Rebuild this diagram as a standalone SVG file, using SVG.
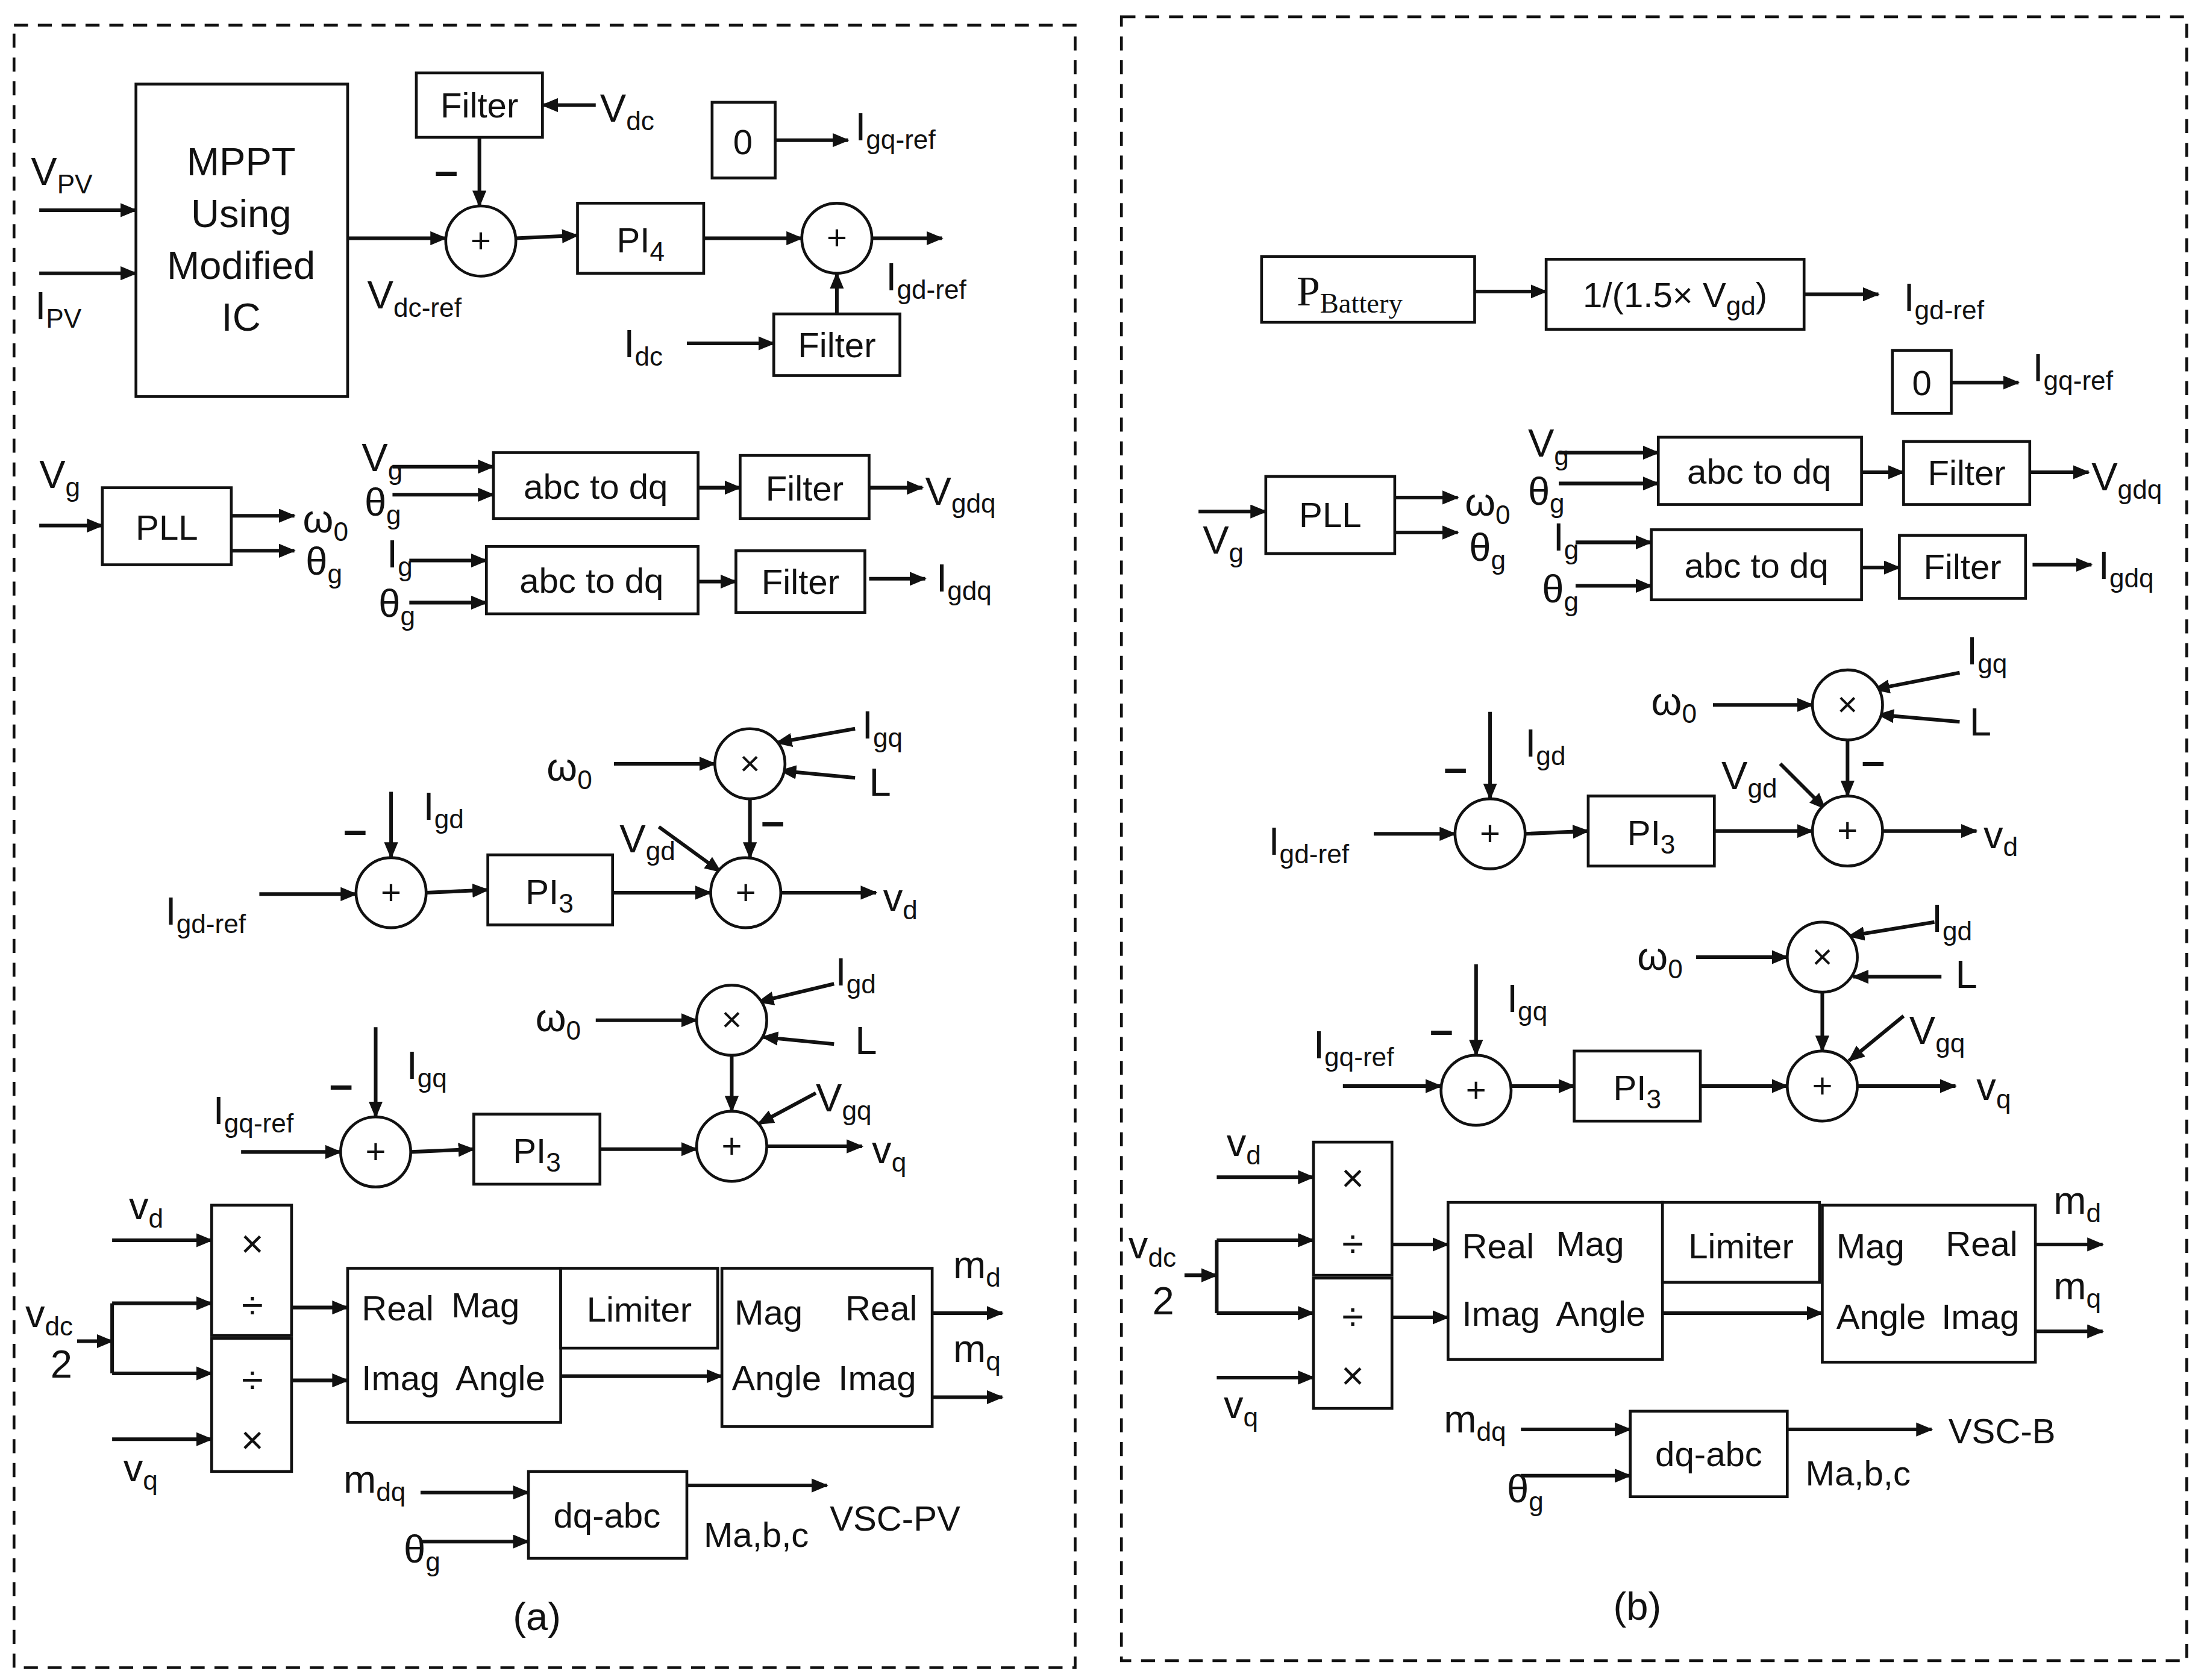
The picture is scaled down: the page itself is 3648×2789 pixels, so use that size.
<svg xmlns="http://www.w3.org/2000/svg" width="3648" height="2789" viewBox="0 0 3648 2789">
<style>
text{font-family:"Liberation Sans",Arial,sans-serif;font-size:25px;fill:#111}
.t{text-anchor:middle}
.l{font-size:28px}
.s{font-size:19px}
.bx{fill:#fff;stroke:#111;stroke-width:2}
.c{fill:#fff;stroke:#111;stroke-width:2}
.a{stroke:#111;stroke-width:2.6;fill:none;marker-end:url(#ah)}
.ln{stroke:#111;stroke-width:2.6;fill:none}
.d{fill:none;stroke:#111;stroke-width:2;stroke-dasharray:10 7}
.m{font-size:30px;font-weight:bold}
</style>
<defs>
<marker id="ah" viewBox="0 0 12 10" refX="11" refY="5" markerWidth="12" markerHeight="10" markerUnits="userSpaceOnUse" orient="auto"><path d="M0,0L12,5L0,10z" fill="#111"/></marker>
</defs>
<rect width="3648" height="2789" fill="#fff"/>
<g transform="scale(2.3265)">
<rect class="d" x="10" y="18" width="757" height="1172"/>
<rect class="d" x="800" y="12" width="760" height="1173"/>

<g id="connectors">
<path class="a" d="M28,150H97"/><path class="a" d="M28,195H97"/>
<path class="a" d="M248,170H318"/>
<path class="a" d="M425,75H387"/>
<path class="a" d="M342,98V147"/>
<path class="a" d="M368,170L412,168"/>
<path class="a" d="M502,170H572"/>
<path class="a" d="M622,170H672"/>
<path class="a" d="M597,224V195"/>
<path class="a" d="M490,245H552"/>
<path class="a" d="M553,100H605"/>
<path class="a" d="M28,375H73"/>
<path class="a" d="M165,368H210"/><path class="a" d="M165,393H210"/>
<path class="a" d="M280,333H352"/><path class="a" d="M280,353H352"/>
<path class="a" d="M498,348H528"/><path class="a" d="M620,348H658"/>
<path class="a" d="M292,400H347"/><path class="a" d="M292,430H347"/>
<path class="a" d="M498,415H525"/><path class="a" d="M620,413H660"/>
<path class="a" d="M185,638H254"/>
<path class="a" d="M279,565V612"/>
<path class="a" d="M304,637L348,635"/>
<path class="a" d="M437,637H507"/>
<path class="a" d="M557,637H625"/>
<path class="a" d="M438,545H510"/>
<path class="a" d="M610,520L554,530"/>
<path class="a" d="M610,555L557,550"/>
<path class="a" d="M535,570V612"/>
<path class="a" d="M470,590L514,622"/>
<path class="a" d="M425,728H497"/>
<path class="a" d="M595,702L541,715"/>
<path class="a" d="M595,745L544,740"/>
<path class="a" d="M522,753V793"/>
<path class="a" d="M582,780L541,802"/>
<path class="a" d="M547,818H615"/>
<path class="a" d="M268,733V797"/>
<path class="a" d="M172,822H243"/>
<path class="a" d="M293,822L338,820"/>
<path class="a" d="M428,820H497"/>
<path class="a" d="M80,885H151"/>
<path class="a" d="M55,957H80"/>
<path class="ln" d="M80,930V980"/>
<path class="a" d="M80,930H151"/><path class="a" d="M80,980H151"/>
<path class="a" d="M80,1027H151"/>
<path class="a" d="M208,933H248"/><path class="a" d="M208,985H248"/>
<path class="a" d="M400,982H515"/>
<path class="a" d="M665,937H715"/><path class="a" d="M665,997H715"/>
<path class="a" d="M300,1065H377"/><path class="a" d="M300,1100H377"/>
<path class="a" d="M490,1060H590"/>
<path class="a" d="M1052,208H1103"/>
<path class="a" d="M1287,210H1340"/>
<path class="a" d="M1392,273H1440"/>
<path class="a" d="M855,365H903"/>
<path class="a" d="M995,355H1040"/><path class="a" d="M995,380H1040"/>
<path class="a" d="M1112,323H1183"/><path class="a" d="M1112,345H1183"/>
<path class="a" d="M1328,337H1358"/><path class="a" d="M1448,337H1490"/>
<path class="a" d="M1124,387H1178"/><path class="a" d="M1124,418H1178"/>
<path class="a" d="M1328,405H1355"/><path class="a" d="M1450,403H1492"/>
<path class="a" d="M1222,503H1293"/>
<path class="a" d="M1398,480L1337,492"/>
<path class="a" d="M1398,515L1340,510"/>
<path class="a" d="M1318,528V568"/>
<path class="a" d="M1270,545L1302,577"/>
<path class="a" d="M1343,593H1410"/>
<path class="a" d="M1063,508V570"/>
<path class="a" d="M980,595H1038"/>
<path class="a" d="M1088,595L1133,593"/>
<path class="a" d="M1223,593H1293"/>
<path class="a" d="M1210,683H1275"/>
<path class="a" d="M1380,658L1319,668"/>
<path class="a" d="M1385,697H1322"/>
<path class="a" d="M1300,708V750"/>
<path class="a" d="M1358,725L1319,757"/>
<path class="a" d="M1325,775H1395"/>
<path class="a" d="M1053,688V753"/>
<path class="a" d="M958,775H1028"/>
<path class="a" d="M1078,775H1123"/>
<path class="a" d="M1213,775H1275"/>
<path class="a" d="M868,840H937"/>
<path class="a" d="M845,910H868"/>
<path class="ln" d="M868,885V937"/>
<path class="a" d="M868,885H937"/><path class="a" d="M868,937H937"/>
<path class="a" d="M868,983H937"/>
<path class="a" d="M993,888H1033"/><path class="a" d="M993,940H1033"/>
<path class="a" d="M1186,937H1300"/>
<path class="a" d="M1452,888H1500"/><path class="a" d="M1452,950H1500"/>
<path class="a" d="M1085,1020H1163"/><path class="a" d="M1085,1053H1163"/>
<path class="a" d="M1275,1020H1378"/>
</g>

<g id="mppt"><rect class="bx" x="97" y="60" width="151" height="223"/>
<text class="t l" x="172" y="125">MPPT</text><text class="t l" x="172" y="162">Using</text><text class="t l" x="172" y="199">Modified</text><text class="t l" x="172" y="236">IC</text></g>
<g id="filterA1"><rect class="bx" x="297" y="52" width="90" height="46"/><text class="t" x="342" y="84">Filter</text></g>
<g id="sumA1"><circle class="c" cx="343" cy="172" r="25"/><text class="t" x="343" y="180">+</text></g>
<g id="pi4"><rect class="bx" x="412" y="145" width="90" height="50"/><text class="t" x="457" y="180">PI<tspan class="s" dy="6">4</tspan></text></g>
<g id="sumA2"><circle class="c" cx="597" cy="170" r="25"/><text class="t" x="597" y="178">+</text></g>
<g id="filterA2"><rect class="bx" x="552" y="224" width="90" height="44"/><text class="t" x="597" y="255">Filter</text></g>
<g id="zeroA"><rect class="bx" x="508" y="73" width="45" height="54"/><text class="t" x="530" y="110">0</text></g>
<g id="pllA"><rect class="bx" x="73" y="348" width="92" height="55"/><text class="t" x="119" y="385">PLL</text></g>
<g id="abcA1"><rect class="bx" x="352" y="323" width="146" height="47"/><text class="t" x="425" y="356">abc to dq</text></g>
<g id="filterA3"><rect class="bx" x="528" y="325" width="92" height="45"/><text class="t" x="574" y="357">Filter</text></g>
<g id="abcA2"><rect class="bx" x="347" y="390" width="151" height="48"/><text class="t" x="422" y="423">abc to dq</text></g>
<g id="filterA4"><rect class="bx" x="525" y="393" width="92" height="44"/><text class="t" x="571" y="424">Filter</text></g>
<g id="sumA3"><circle class="c" cx="279" cy="637" r="25"/><text class="t" x="279" y="645">+</text></g>
<g id="pi3A1"><rect class="bx" x="348" y="610" width="89" height="50"/><text class="t" x="392" y="645">PI<tspan class="s" dy="6">3</tspan></text></g>
<g id="sumA4"><circle class="c" cx="532" cy="637" r="25"/><text class="t" x="532" y="645">+</text></g>
<g id="mulA1"><circle class="c" cx="535" cy="545" r="25"/><text class="t" x="535" y="553">×</text></g>
<g id="mulA2"><circle class="c" cx="522" cy="728" r="25"/><text class="t" x="522" y="736">×</text></g>
<g id="sumA5"><circle class="c" cx="522" cy="818" r="25"/><text class="t" x="522" y="826">+</text></g>
<g id="sumA6"><circle class="c" cx="268" cy="822" r="25"/><text class="t" x="268" y="830">+</text></g>
<g id="pi3A2"><rect class="bx" x="338" y="795" width="90" height="50"/><text class="t" x="383" y="830">PI<tspan class="s" dy="6">3</tspan></text></g>
<g id="divA1"><rect class="bx" x="151" y="860" width="57" height="93"/><text class="t l" x="180" y="897">×</text><text class="t l" x="180" y="941">÷</text></g>
<g id="divA2"><rect class="bx" x="151" y="955" width="57" height="95"/><text class="t l" x="180" y="994">÷</text><text class="t l" x="180" y="1037">×</text></g>
<g id="r2pA"><rect class="bx" x="248" y="905" width="152" height="110"/><text x="258" y="942">Real</text><text x="322" y="940">Mag</text><text x="258" y="992">Imag</text><text x="325" y="992">Angle</text></g>
<g id="limA"><rect class="bx" x="400" y="905" width="112" height="57"/><text class="t" x="456" y="943">Limiter</text></g>
<g id="p2rA"><rect class="bx" x="515" y="905" width="150" height="113"/><text x="524" y="945">Mag</text><text x="603" y="942">Real</text><text x="522" y="992">Angle</text><text x="598" y="992">Imag</text></g>
<g id="dqabcA"><rect class="bx" x="377" y="1050" width="113" height="62"/><text class="t" x="433" y="1090">dq-abc</text></g>

<g id="labelsA">
<text class="l" x="22" y="132">V<tspan class="s" dy="6">PV</tspan></text>
<text class="l" x="25" y="228">I<tspan class="s" dy="6">PV</tspan></text>
<text class="l" x="428" y="87">V<tspan class="s" dy="6">dc</tspan></text>
<text class="m" x="310" y="132">–</text>
<text class="l" x="262" y="220">V<tspan class="s" dy="6">dc-ref</tspan></text>
<text class="l" x="610" y="100">I<tspan class="s" dy="6">gq-ref</tspan></text>
<text class="l" x="632" y="207">I<tspan class="s" dy="6">gd-ref</tspan></text>
<text class="l" x="445" y="255">I<tspan class="s" dy="6">dc</tspan></text>
<text class="l" x="28" y="348">V<tspan class="s" dy="6">g</tspan></text>
<text class="l" x="216" y="380">ω<tspan class="s" dy="6">0</tspan></text>
<text class="l" x="218" y="410">θ<tspan class="s" dy="6">g</tspan></text>
<text class="l" x="258" y="336">V<tspan class="s" dy="6">g</tspan></text>
<text class="l" x="260" y="368">θ<tspan class="s" dy="6">g</tspan></text>
<text class="l" x="660" y="360">V<tspan class="s" dy="6">gdq</tspan></text>
<text class="l" x="276" y="405">I<tspan class="s" dy="6">g</tspan></text>
<text class="l" x="270" y="440">θ<tspan class="s" dy="6">g</tspan></text>
<text class="l" x="668" y="422">I<tspan class="s" dy="6">gdq</tspan></text>
<text class="l" x="118" y="660">I<tspan class="s" dy="6">gd-ref</tspan></text>
<text class="m" x="245" y="602">–</text>
<text class="l" x="302" y="585">I<tspan class="s" dy="6">gd</tspan></text>
<text class="l" x="390" y="557">ω<tspan class="s" dy="6">0</tspan></text>
<text class="l" x="615" y="527">I<tspan class="s" dy="6">gq</tspan></text>
<text class="l" x="620" y="568">L</text>
<text class="m" x="543" y="596">–</text>
<text class="l" x="442" y="608">V<tspan class="s" dy="6">gd</tspan></text>
<text class="l" x="630" y="650">v<tspan class="s" dy="6">d</tspan></text>
<text class="l" x="382" y="736">ω<tspan class="s" dy="6">0</tspan></text>
<text class="l" x="596" y="703">I<tspan class="s" dy="6">gd</tspan></text>
<text class="l" x="610" y="752">L</text>
<text class="l" x="582" y="793">V<tspan class="s" dy="6">gq</tspan></text>
<text class="l" x="622" y="830">v<tspan class="s" dy="6">q</tspan></text>
<text class="m" x="235" y="784">–</text>
<text class="l" x="290" y="770">I<tspan class="s" dy="6">gq</tspan></text>
<text class="l" x="152" y="802">I<tspan class="s" dy="6">gq-ref</tspan></text>
<text class="l" x="92" y="870">v<tspan class="s" dy="6">d</tspan></text>
<text class="l" x="18" y="947">v<tspan class="s" dy="6">dc</tspan></text>
<text class="l" x="36" y="983">2</text>
<text class="l" x="88" y="1057">v<tspan class="s" dy="6">q</tspan></text>
<text class="l" x="680" y="912">m<tspan class="s" dy="6">d</tspan></text>
<text class="l" x="680" y="972">m<tspan class="s" dy="6">q</tspan></text>
<text class="l" x="245" y="1065">m<tspan class="s" dy="6">dq</tspan></text>
<text class="l" x="288" y="1115">θ<tspan class="s" dy="6">g</tspan></text>
<text x="502" y="1104">Ma,b,c</text>
<text x="592" y="1092">VSC-PV</text>
<text class="t l" x="383" y="1163">(a)</text>
</g>

<g id="pbat"><rect class="bx" x="900" y="183" width="152" height="47"/><text x="925" y="218" style="font-family:'Liberation Serif',serif;font-size:30px">P<tspan style="font-size:20px" dy="5">Battery</tspan></text></g>
<g id="gain"><rect class="bx" x="1103" y="185" width="184" height="50"/><text class="t" x="1195" y="219">1/(1.5× V<tspan class="s" dy="6">gd</tspan><tspan dy="-6">)</tspan></text></g>
<g id="zeroB"><rect class="bx" x="1350" y="250" width="42" height="45"/><text class="t" x="1371" y="282">0</text></g>
<g id="pllB"><rect class="bx" x="903" y="340" width="92" height="55"/><text class="t" x="949" y="376">PLL</text></g>
<g id="abcB1"><rect class="bx" x="1183" y="312" width="145" height="48"/><text class="t" x="1255" y="345">abc to dq</text></g>
<g id="filterB1"><rect class="bx" x="1358" y="315" width="90" height="45"/><text class="t" x="1403" y="346">Filter</text></g>
<g id="abcB2"><rect class="bx" x="1178" y="378" width="150" height="50"/><text class="t" x="1253" y="412">abc to dq</text></g>
<g id="filterB2"><rect class="bx" x="1355" y="382" width="90" height="45"/><text class="t" x="1400" y="413">Filter</text></g>
<g id="mulB1"><circle class="c" cx="1318" cy="503" r="25"/><text class="t" x="1318" y="511">×</text></g>
<g id="sumB1"><circle class="c" cx="1318" cy="593" r="25"/><text class="t" x="1318" y="601">+</text></g>
<g id="sumB2"><circle class="c" cx="1063" cy="595" r="25"/><text class="t" x="1063" y="603">+</text></g>
<g id="pi3B1"><rect class="bx" x="1133" y="568" width="90" height="50"/><text class="t" x="1178" y="603">PI<tspan class="s" dy="6">3</tspan></text></g>
<g id="mulB2"><circle class="c" cx="1300" cy="683" r="25"/><text class="t" x="1300" y="691">×</text></g>
<g id="sumB3"><circle class="c" cx="1300" cy="775" r="25"/><text class="t" x="1300" y="783">+</text></g>
<g id="sumB4"><circle class="c" cx="1053" cy="778" r="25"/><text class="t" x="1053" y="786">+</text></g>
<g id="pi3B2"><rect class="bx" x="1123" y="750" width="90" height="50"/><text class="t" x="1168" y="785">PI<tspan class="s" dy="6">3</tspan></text></g>
<g id="divB1"><rect class="bx" x="937" y="815" width="56" height="95"/><text class="t l" x="965" y="850">×</text><text class="t l" x="965" y="897">÷</text></g>
<g id="divB2"><rect class="bx" x="937" y="912" width="56" height="93"/><text class="t l" x="965" y="949">÷</text><text class="t l" x="965" y="991">×</text></g>
<g id="r2pB"><rect class="bx" x="1033" y="858" width="153" height="112"/><text x="1043" y="898">Real</text><text x="1110" y="896">Mag</text><text x="1043" y="946">Imag</text><text x="1110" y="946">Angle</text></g>
<g id="limB"><rect class="bx" x="1186" y="858" width="112" height="57"/><text class="t" x="1242" y="898">Limiter</text></g>
<g id="p2rB"><rect class="bx" x="1300" y="860" width="152" height="112"/><text x="1310" y="898">Mag</text><text x="1388" y="896">Real</text><text x="1310" y="948">Angle</text><text x="1385" y="948">Imag</text></g>
<g id="dqabcB"><rect class="bx" x="1163" y="1007" width="112" height="61"/><text class="t" x="1219" y="1046">dq-abc</text></g>

<g id="labelsB">
<text class="l" x="1358" y="222">I<tspan class="s" dy="6">gd-ref</tspan></text>
<text class="l" x="1450" y="272">I<tspan class="s" dy="6">gq-ref</tspan></text>
<text class="l" x="858" y="395">V<tspan class="s" dy="6">g</tspan></text>
<text class="l" x="1045" y="368">ω<tspan class="s" dy="6">0</tspan></text>
<text class="l" x="1048" y="400">θ<tspan class="s" dy="6">g</tspan></text>
<text class="l" x="1090" y="326">V<tspan class="s" dy="6">g</tspan></text>
<text class="l" x="1090" y="360">θ<tspan class="s" dy="6">g</tspan></text>
<text class="l" x="1492" y="350">V<tspan class="s" dy="6">gdq</tspan></text>
<text class="l" x="1108" y="393">I<tspan class="s" dy="6">g</tspan></text>
<text class="l" x="1100" y="430">θ<tspan class="s" dy="6">g</tspan></text>
<text class="l" x="1497" y="413">I<tspan class="s" dy="6">gdq</tspan></text>
<text class="l" x="1178" y="510">ω<tspan class="s" dy="6">0</tspan></text>
<text class="l" x="1403" y="474">I<tspan class="s" dy="6">gq</tspan></text>
<text class="l" x="1405" y="525">L</text>
<text class="m" x="1328" y="553">–</text>
<text class="l" x="1228" y="563">V<tspan class="s" dy="6">gd</tspan></text>
<text class="l" x="1415" y="605">v<tspan class="s" dy="6">d</tspan></text>
<text class="m" x="1030" y="558">–</text>
<text class="l" x="1088" y="540">I<tspan class="s" dy="6">gd</tspan></text>
<text class="l" x="905" y="610">I<tspan class="s" dy="6">gd-ref</tspan></text>
<text class="l" x="1168" y="692">ω<tspan class="s" dy="6">0</tspan></text>
<text class="l" x="1378" y="665">I<tspan class="s" dy="6">gd</tspan></text>
<text class="l" x="1395" y="705">L</text>
<text class="l" x="1362" y="745">V<tspan class="s" dy="6">gq</tspan></text>
<text class="l" x="1410" y="785">v<tspan class="s" dy="6">q</tspan></text>
<text class="m" x="1020" y="745">–</text>
<text class="l" x="1075" y="722">I<tspan class="s" dy="6">gq</tspan></text>
<text class="l" x="937" y="755">I<tspan class="s" dy="6">gq-ref</tspan></text>
<text class="l" x="875" y="825">v<tspan class="s" dy="6">d</tspan></text>
<text class="l" x="805" y="898">v<tspan class="s" dy="6">dc</tspan></text>
<text class="l" x="822" y="938">2</text>
<text class="l" x="873" y="1012">v<tspan class="s" dy="6">q</tspan></text>
<text class="l" x="1465" y="866">m<tspan class="s" dy="6">d</tspan></text>
<text class="l" x="1465" y="927">m<tspan class="s" dy="6">q</tspan></text>
<text class="l" x="1030" y="1022">m<tspan class="s" dy="6">dq</tspan></text>
<text class="l" x="1075" y="1072">θ<tspan class="s" dy="6">g</tspan></text>
<text x="1288" y="1060">Ma,b,c</text>
<text x="1390" y="1030">VSC-B</text>
<text class="t l" x="1168" y="1156">(b)</text>
</g>
</g>
</svg>
